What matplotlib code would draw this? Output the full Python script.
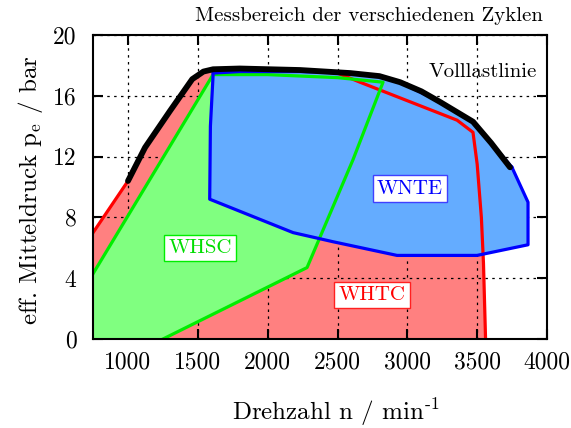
import matplotlib
matplotlib.use("Agg")
import matplotlib.pyplot as plt
from matplotlib.patches import Polygon

plt.rcParams['font.family'] = ['cmr10', 'DejaVu Serif']
plt.rcParams['mathtext.fontset'] = 'cm'
plt.rcParams['axes.unicode_minus'] = False

# Volllastlinie (black)
vl_n = [1000, 1122, 1300, 1460, 1540, 1609, 1800, 2232, 2590, 2800, 2948, 3100, 3234, 3470, 3600, 3735]
vl_p = [10.4, 12.6, 15.0, 17.1, 17.6, 17.75, 17.8, 17.7, 17.5, 17.3, 16.9, 16.3, 15.6, 14.3, 12.9, 11.3]

# WHTC (red)
whtc_n = [750, 1000, 1122, 1300, 1460, 1540, 1609, 1800, 2232, 2500, 2661, 3356, 3470, 3500, 3530, 3545, 3560, 750]
whtc_p = [7.0, 10.4, 12.6, 15.0, 17.1, 17.6, 17.75, 17.8, 17.7, 17.5, 16.9, 14.4, 13.6, 11.5, 8.0, 5.0, 0.0, 0.0]

# WHSC (green)
whsc_n = [750, 750, 1609, 2000, 2500, 2826, 2611, 2282, 1251]
whsc_p = [0.0, 4.3, 17.4, 17.4, 17.2, 16.9, 11.8, 4.7, 0.0]

# WNTE (blue)
wnte_n = [1610, 1590, 1585, 2182, 2468, 2926, 3499, 3864, 3864, 3749, 3600, 3470, 3234, 2948, 2800, 2590, 2232, 1800]
wnte_p = [17.5, 14.0, 9.2, 7.0, 6.4, 5.5, 5.5, 6.2, 9.0, 11.3, 12.9, 14.3, 15.6, 16.9, 17.3, 17.5, 17.6, 17.6]

fig = plt.figure(figsize=(5.71, 4.28), dpi=100)
ax = fig.add_axes([0.163, 0.208, 0.795, 0.710])

ax.add_patch(Polygon(list(zip(whtc_n, whtc_p)), closed=True, fc='#ff8080', ec='none', zorder=1))
ax.add_patch(Polygon(list(zip(whsc_n, whsc_p)), closed=True, fc='#80ff80', ec='none', zorder=2))
ax.add_patch(Polygon(list(zip(wnte_n, wnte_p)), closed=True, fc='#64acff', ec='none', zorder=3))

ax.plot(whtc_n[:-1], whtc_p[:-1], color='#ff0000', lw=2.3, zorder=4)
ax.plot(whsc_n[1:], whsc_p[1:], color='#00ee00', lw=2.3, zorder=5)
ax.plot(wnte_n[:10], wnte_p[:10], color='#0000ff', lw=2.3, zorder=6)
ax.plot(wnte_n[9:] + [wnte_n[0]], wnte_p[9:] + [wnte_p[0]], color='#0000ff', lw=2.3, zorder=6)
ax.plot(vl_n, vl_p, color='black', lw=4.2, solid_capstyle='round', solid_joinstyle='round', zorder=7)

ax.set_xlim(750, 4000)
ax.set_ylim(0, 20)
ax.set_xticks([1000, 1500, 2000, 2500, 3000, 3500, 4000])
ax.set_yticks([0, 4, 8, 12, 16, 20])
ax.grid(True, color='black', linestyle=(0, (2, 3.5)), linewidth=0.9)
for gl in ax.get_xgridlines() + ax.get_ygridlines():
    gl.set_zorder(3.5)
ax.tick_params(direction='in', length=7, width=1.5, labelsize=17, top=True, right=True)
ax.tick_params(axis='x', pad=9)
ax.tick_params(axis='y', pad=12)
for s in ax.spines.values():
    s.set_linewidth(1.5)
    s.set_zorder(8)

ax.set_xlabel(r'Drehzahl n / min$^{\mathrm{\text{-}1}}$', fontsize=18)
ax.set_ylabel(r'eff. Mitteldruck p$_{\mathrm{e}}$ / bar', fontsize=18)
ax.xaxis.set_label_coords(0.535, -0.19)
ax.yaxis.set_label_coords(-0.105, 0.49)

box = dict(boxstyle='square,pad=0.2', fc='white', lw=1)
ax.text(1516, 6.0, 'WHSC', color='#00dd00', fontsize=15, ha='center', va='center', zorder=9,
        bbox=dict(box, ec='#00ee00'))
ax.text(3019, 9.9, 'WNTE', color='#0000ff', fontsize=15, ha='center', va='center', zorder=9,
        bbox=dict(box, ec='#4040ff'))
ax.text(2747, 2.9, 'WHTC', color='#ff0000', fontsize=15, ha='center', va='center', zorder=9,
        bbox=dict(box, ec='#ff2020'))
ax.text(3542, 17.6, 'Volllastlinie', color='black', fontsize=15, ha='center', va='center', zorder=9)
fig.text(0.951, 0.962, 'Messbereich der verschiedenen Zyklen', fontsize=15, ha='right', va='center')

fig.savefig('out.png', dpi=100)
